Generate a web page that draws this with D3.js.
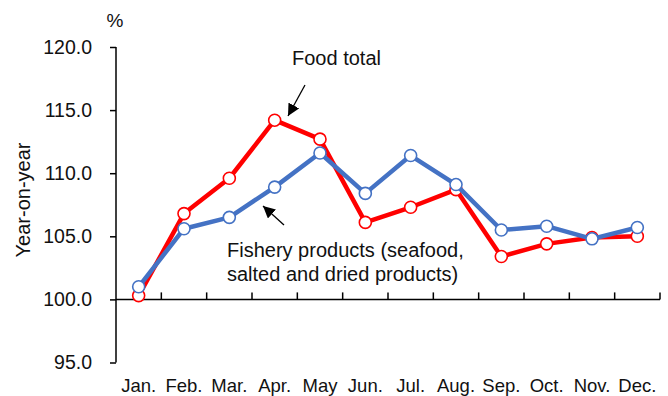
<!DOCTYPE html>
<html>
<head>
<meta charset="utf-8">
<script src="https://cdn.jsdelivr.net/npm/d3@7"></script>
<style>
  html, body { margin: 0; padding: 0; background: #fff; }
  svg { display: block; font-family: "Liberation Sans", Arial, sans-serif; }
</style>
</head>
<body>
<svg id="chart" width="668" height="396"></svg>
<script>
// Months along the horizontal axis
const months = ["Jan.", "Feb.", "Mar.", "Apr.", "May", "Jun.", "Jul.", "Aug.", "Sep.", "Oct.", "Nov.", "Dec."];
// Year-on-year index (%), food total
const foodTotal = [100.3, 106.8, 109.6, 114.2, 112.7, 106.1, 107.3, 108.7, 103.4, 104.4, 104.9, 105.0];
// Year-on-year index (%), fishery products
const fishery = [101.0, 105.6, 106.5, 108.9, 111.6, 108.4, 111.4, 109.1, 105.5, 105.8, 104.8, 105.7];
// Value-axis ticks
const yTicks = [95, 100, 105, 110, 115, 120];

const svg = d3.select("#chart");
const textColor = "#111";

const x = d3.scaleBand().domain(months).range([116, 660]);
const y = d3.scaleLinear().domain([95, 120]).range([362.5, 47]);

// Arrow marker
const defs = svg.append("defs");
defs.append("marker")
  .attr("id", "arrowhead")
  .attr("viewBox", "0 0 10 10")
  .attr("refX", 10).attr("refY", 5)
  .attr("markerWidth", 12).attr("markerHeight", 12)
  .attr("markerUnits", "userSpaceOnUse")
  .attr("orient", "auto")
  .append("path").attr("d", "M0,0 L10,5 L0,10 Z").attr("fill", "#000");

// Vertical value axis
const yAxis = d3.axisLeft(y).tickValues(yTicks).tickFormat(d3.format(".1f")).tickSize(6).tickPadding(18);
const gy = svg.append("g").attr("transform", "translate(116,0)").call(yAxis);
gy.select(".domain").attr("stroke", "#000").attr("stroke-width", 1.5).attr("d", `M0,${y(95)}V${y(120)}`);
gy.selectAll(".tick line").attr("stroke", "#000").attr("stroke-width", 1.5);
gy.selectAll(".tick text").attr("font-size", 19.5).attr("fill", textColor).attr("font-family", "Liberation Sans, Arial, sans-serif");

// Horizontal axis line at 100 with upward ticks at category boundaries
const boundaries = months.map(m => x(m) + x.bandwidth());
const gx = svg.append("g");
gx.append("line")
  .attr("x1", 116).attr("x2", 660)
  .attr("y1", y(100)).attr("y2", y(100))
  .attr("stroke", "#000").attr("stroke-width", 1.5);
gx.selectAll("line.tk").data(boundaries).join("line")
  .attr("class", "tk")
  .attr("x1", d => d).attr("x2", d => d)
  .attr("y1", y(100)).attr("y2", y(100) - 7)
  .attr("stroke", "#000").attr("stroke-width", 1.5);

// Month labels along the bottom
svg.append("g").selectAll("text").data(months).join("text")
  .attr("x", d => x(d) + x.bandwidth() / 2)
  .attr("y", 392)
  .attr("text-anchor", "middle")
  .attr("font-size", 18.5)
  .attr("fill", textColor)
  .text(d => d);

// Unit and axis title
svg.append("text").attr("x", 115).attr("y", 27).attr("text-anchor", "middle")
  .attr("font-size", 19).attr("fill", textColor).text("%");
svg.append("text")
  .attr("transform", "translate(30,200) rotate(-90)")
  .attr("text-anchor", "middle")
  .attr("font-size", 20).attr("fill", textColor).text("Year-on-year");

// Series lines and markers
const cx = (d, i) => x(months[i]) + x.bandwidth() / 2;
const line = d3.line().x(cx).y(d => y(d));

function drawSeries(values, color, width) {
  const g = svg.append("g");
  g.append("path").datum(values)
    .attr("d", line)
    .attr("fill", "none")
    .attr("stroke", color)
    .attr("stroke-width", width)
    .attr("stroke-linejoin", "round");
  g.selectAll("circle").data(values).join("circle")
    .attr("cx", cx).attr("cy", d => y(d))
    .attr("r", 6)
    .attr("fill", "#fff")
    .attr("stroke", color)
    .attr("stroke-width", 1.6);
}
drawSeries(foodTotal, "#ff0000", 4.5);
drawSeries(fishery, "#4472c4", 4.5);

// Annotations
svg.append("text").attr("x", 292).attr("y", 65)
  .attr("font-size", 20).attr("fill", textColor).text("Food total");
svg.append("line")
  .attr("x1", 305).attr("y1", 85).attr("x2", 288).attr("y2", 116)
  .attr("stroke", "#000").attr("stroke-width", 1.3)
  .attr("marker-end", "url(#arrowhead)");

const fishLabel = svg.append("text").attr("font-size", 20).attr("fill", textColor);
fishLabel.append("tspan").attr("x", 227).attr("y", 257).text("Fishery products (seafood,");
fishLabel.append("tspan").attr("x", 227).attr("y", 281).text("salted and dried products)");
svg.append("line")
  .attr("x1", 284).attr("y1", 225).attr("x2", 263).attr("y2", 206)
  .attr("stroke", "#000").attr("stroke-width", 1.3)
  .attr("marker-end", "url(#arrowhead)");
</script>
</body>
</html>
